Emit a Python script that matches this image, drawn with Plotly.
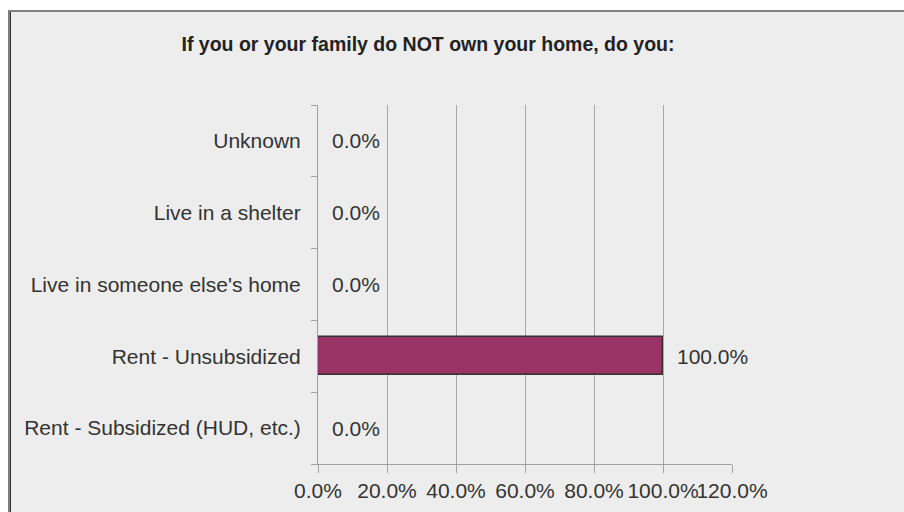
import plotly.graph_objects as go

# Survey answers, listed bottom-to-top as they appear on the category axis
categories = [
    "Rent - Subsidized (HUD, etc.)",
    "Rent - Unsubsidized",
    "Live in someone else's home",
    "Live in a shelter",
    "Unknown",
]
percent_values = [0.0, 100.0, 0.0, 0.0, 0.0]
x_tick_values = [0, 20, 40, 60, 80, 100, 120]
x_tick_labels = ["0.0%", "20.0%", "40.0%", "60.0%", "80.0%", "100.0%", "120.0%"]
title_text = "If you or your family do NOT own your home, do you:"

W, H = 904, 512
L, R, T, B = 318, 732, 105, 464  # plot-area edges in pixels
pw, ph = R - L, B - T


def px_x(v):
    return (v - L) / pw


def px_y(v):
    return (B - v) / ph


FONT = "Liberation Sans, Arial, sans-serif"
TXT = "#333333"

fig = go.Figure()
fig.add_trace(go.Bar(
    y=categories,
    x=percent_values,
    orientation="h",
    width=0.53,
    marker=dict(color="#993366", line=dict(color="#333333", width=1.5)),
    hoverinfo="skip",
))

# value labels beside each bar
annotations = [
    dict(x=v, y=c, xref="x", yref="y", text=f"{v:.1f}%", showarrow=False,
         xanchor="left", yanchor="middle", xshift=12,
         font=dict(family=FONT, size=21, color=TXT))
    for c, v in zip(categories, percent_values)
]

shapes = [
    # grey panel with its framing edge
    dict(type="rect", xref="paper", yref="paper", layer="below",
         x0=px_x(9), x1=px_x(W + 10), y0=px_y(H + 10), y1=px_y(11),
         fillcolor="#ededed", line=dict(color="#808080", width=2)),
    dict(type="line", xref="paper", yref="paper", layer="below",
         x0=px_x(10.5), x1=px_x(10.5), y0=px_y(H + 10), y1=px_y(12),
         line=dict(color="#333333", width=1)),
]

fig.update_layout(
    width=W, height=H,
    margin=dict(l=L, r=W - R, t=T, b=H - B, pad=0, autoexpand=False),
    paper_bgcolor="white",
    plot_bgcolor="rgba(0,0,0,0)",
    showlegend=False,
    title=dict(text=f"<b>{title_text}</b>", xref="container", yref="container",
               x=428 / W, y=1 - 44 / H, xanchor="center", yanchor="middle",
               font=dict(family=FONT, size=19.5, color="#222222")),
    annotations=annotations,
    shapes=shapes,
    bargap=0,
)

fig.update_xaxes(
    range=[0, 120], tickmode="array", tickvals=x_tick_values, ticktext=x_tick_labels,
    tickangle=0, automargin=False,
    showgrid=True, gridcolor="#a8a8a8", gridwidth=1,
    showline=True, linecolor="#a0a0a0", linewidth=1,
    ticks="outside", ticklen=8, tickcolor="#a0a0a0",
    tickfont=dict(family=FONT, size=21, color=TXT),
    zeroline=False, fixedrange=True,
)
fig.update_yaxes(
    type="category", categoryorder="array", categoryarray=categories,
    range=[-0.5, len(categories) - 0.5], automargin=False,
    showgrid=False, showline=True, linecolor="#a0a0a0", linewidth=1,
    ticks="outside", ticklen=6, tickcolor="#a0a0a0", tickson="boundaries",
    ticklabelstandoff=12,
    tickfont=dict(family=FONT, size=21, color=TXT),
    zeroline=False, fixedrange=True,
)

fig.write_html("out.html", config={"displayModeBar": False})
